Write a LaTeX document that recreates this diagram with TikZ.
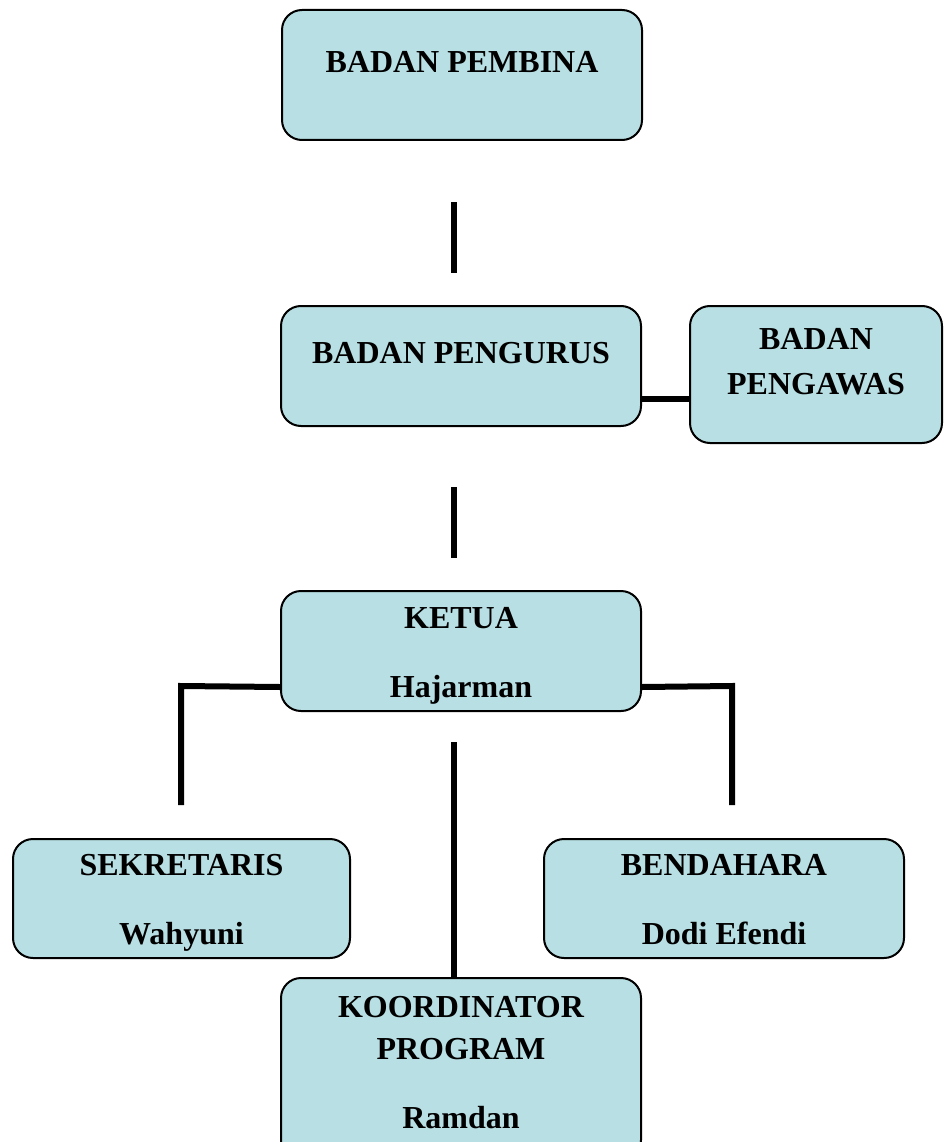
\documentclass[tikz,border=0pt]{standalone}
\usepackage{fontspec}
\setmainfont{Liberation Serif}
\usepackage{xcolor}
\usepackage{tikz}
\usetikzlibrary{calc}
\definecolor{cBox}{HTML}{B8DFE3}
\definecolor{cInk}{HTML}{000000}
\tikzset{
  orgbox/.style={draw=cInk,fill=cBox,rounded corners=20pt,line width=2pt,align=center,anchor=north west,
    inner sep=0pt,text=cInk,font=\fontsize{32}{42}\selectfont\bfseries},
  link/.style={draw=cInk,line width=6pt,line join=miter},
}
\begin{document}
\begin{tikzpicture}[x=1pt,y=-1pt]
    \clip (0,0) rectangle (943,1142);
    % boxes (text height/depth fix the baseline of the last line)
    \node[orgbox,minimum width=360pt,text height=63pt,text depth=67pt] (pembina) at (281,9) {BADAN PEMBINA};
    \node[orgbox,minimum width=360pt,text height=57pt,text depth=63pt] (pengurus) at (280,305) {BADAN PENGURUS};
    \node[orgbox,minimum width=252pt,text height=88pt,text depth=49pt] (pengawas) at (689,305) {BADAN\\[3pt]PENGAWAS};
    \node[orgbox,minimum width=360pt,text height=106pt,text depth=14pt] (ketua) at (280,590) {KETUA\\[27pt]Hajarman};
    \node[orgbox,minimum width=337pt,text height=105pt,text depth=14pt] (sekretaris) at (12,838) {SEKRETARIS\\[27pt]Wahyuni};
    \node[orgbox,minimum width=360pt,text height=105pt,text depth=14pt] (bendahara) at (543,838) {BENDAHARA\\[27pt]Dodi Efendi};
    \node[orgbox,minimum width=360pt,text height=150pt,text depth=32pt] (koordinator) at (280,977) {KOORDINATOR\\PROGRAM\\[27pt]Ramdan};
    % free ends of the short strokes
    \coordinate (s1a) at (454,202); \coordinate (s1b) at (454,273);
    \coordinate (s2a) at (454,487); \coordinate (s2b) at (454,558);
    \coordinate (kw) at ([yshift=-36pt]ketua.west);
    \coordinate (ke) at ([yshift=-36pt]ketua.east);
    \coordinate (pj) at ([yshift=-33pt]pengurus.east);
    \coordinate (kc) at (454,742);
    % connectors
    \draw[link] (s1a) -- (s1b);
    \draw[link] (s2a) -- (s2b);
    \draw[link] (pj) -- (pj -| pengawas.west);
    \draw[link] (kw) -- (181,686) -- (181,805);
    \draw[link] (ke) -- (732,686) -- (732,805);
    \draw[link] (kc) -- (kc |- koordinator.north);
  \end{tikzpicture}
\end{document}
